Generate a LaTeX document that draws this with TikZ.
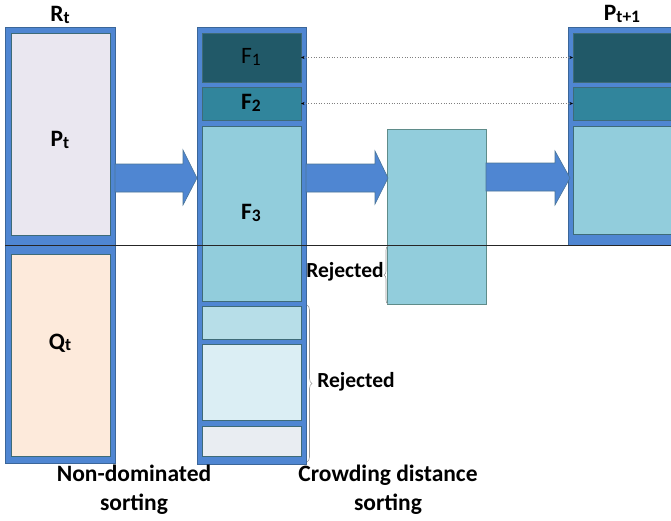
\documentclass[tikz,border=0pt]{standalone}
\usepackage{fontspec}
\setmainfont{Carlito}
\usetikzlibrary{arrows.meta,decorations.pathreplacing}
\definecolor{outblue}{HTML}{4F86D2}
\definecolor{bordblue}{HTML}{3B6699}
\definecolor{innbord}{HTML}{3E6B78}
\definecolor{cPt}{HTML}{EAE7F0}
\definecolor{cQt}{HTML}{FDEADB}
\definecolor{cF1}{HTML}{215968}
\definecolor{cF2}{HTML}{31859C}
\definecolor{cF3}{HTML}{92CDDC}
\definecolor{cB4}{HTML}{B7DEE8}
\definecolor{cB5}{HTML}{DBEEF4}
\definecolor{cB6}{HTML}{E9EDF2}
\definecolor{arrbord}{HTML}{4A7598}
\definecolor{crowdbord}{HTML}{5F8C8A}
\newcommand{\mysub}[1]{\raisebox{-0.15ex}{\fontsize{17.5}{17.5}\selectfont #1}}
\tikzset{
  outerbox/.style={draw=bordblue, fill=outblue, line width=0.8pt, inner sep=0pt, outer sep=0pt, anchor=north west},
  innerbox/.style={draw=innbord, line width=0.6pt, inner sep=0pt, outer sep=0pt, anchor=north west},
  lbl/.style={font=\fontsize{23.5}{27}\selectfont\bfseries, inner sep=0pt},
  botlbl/.style={font=\fontsize{23.5}{29}\selectfont\bfseries, align=center, inner sep=0pt},
  rejlbl/.style={font=\fontsize{21.5}{25}\selectfont\bfseries, inner sep=0pt},
  bigarrow/.style={fill=outblue, draw=arrbord, line width=0.6pt},
  dotarrow/.style={draw=gray, dotted, line width=0.6pt, {Stealth[length=3.5pt,width=3pt,black]}-{Stealth[length=3.5pt,width=3pt,black]}},
  bracepath/.style={draw=gray!80, line width=0.6pt, decorate},
}
\begin{document}
\begin{tikzpicture}[x=1pt,y=-1pt]
\clip (0,0) rectangle (671,520);
\fill[white] (0,0) rectangle (671,520);

% left column R_t
\node[outerbox, minimum width=110pt, minimum height=436pt] (R) at (5,27) {};
\node[innerbox, fill=cPt, minimum width=99pt, minimum height=202pt] (P) at (11,33) {};
\node[innerbox, fill=cQt, minimum width=99pt, minimum height=202pt] (Q) at (11,254) {};
\node[lbl] (Rl) at (60,15) {R\mysub{t}};
\node[lbl] (Pl) at (60,140) {P\mysub{t}};
\node[lbl] (Ql) at (60,343) {Q\mysub{t}};

% middle column
\node[outerbox, minimum width=109pt, minimum height=437pt] (M) at (197,27) {};
\node[innerbox, fill=cF1, minimum width=99pt, minimum height=49pt] (F1) at (202,33) {};
\node[innerbox, fill=cF2, minimum width=99pt, minimum height=33pt] (F2) at (202,87) {};
\node[innerbox, fill=cF3, minimum width=99pt, minimum height=175pt] (F3) at (202,126) {};
\node[innerbox, fill=cB4, minimum width=99pt, minimum height=33pt] (B4) at (202,306) {};
\node[innerbox, fill=cB5, minimum width=99pt, minimum height=76pt] (B5) at (202,344) {};
\node[innerbox, fill=cB6, minimum width=99pt, minimum height=30pt] (B6) at (202,426) {};
\node[lbl, font=\fontsize{23.5}{27}\selectfont] (F1l) at (251,57) {F\mysub{1}};
\node[lbl] (F2l) at (251,103) {F\mysub{2}};
\node[lbl] (F3l) at (251,213) {F\mysub{3}};

% crowding box
\node[draw=crowdbord, fill=cF3, line width=0.6pt, inner sep=0pt, anchor=north west, minimum width=99pt, minimum height=175pt] (C) at (387,129) {};

% right column P_{t+1}
\node[outerbox, minimum width=130pt, minimum height=218pt] (N) at (568,27) {};
\node[innerbox, fill=cF1, minimum width=120pt, minimum height=49pt] (G1) at (573,33) {};
\node[innerbox, fill=cF2, minimum width=120pt, minimum height=33pt] (G2) at (573,87) {};
\node[innerbox, fill=cF3, minimum width=120pt, minimum height=108pt] (G3) at (573,126) {};
\node[lbl] (Nl) at (622,14) {P\mysub{t+1}};

% big arrows
\draw[bigarrow] (115,164) -- (183,164) -- (183,150) -- (197,178) -- (183,205) -- (183,192) -- (115,192) -- cycle;
\draw[bigarrow] (306,164) -- (375,164) -- (375,151) -- (388,178) -- (375,204) -- (375,192) -- (306,192) -- cycle;
\draw[bigarrow] (486,163) -- (555,163) -- (555,151) -- (570,178) -- (555,205) -- (555,191) -- (486,191) -- cycle;

% dotted arrows
\draw[dotarrow] (F1.east) -- (G1.west);
\draw[dotarrow] (F2.east) -- (G2.west);

% horizontal line
\coordinate (h1) at (5,245);
\coordinate (h2) at (671,245);
\draw[line width=0.7pt, black!85] (h1) -- (h2);

% braces and rejected labels
\coordinate (b1a) at (388,304);
\coordinate (b1b) at (388,246);
\draw[bracepath, decoration={brace, amplitude=4pt}] (b1a) -- (b1b);
\node[rejlbl] (rej1) at (345,272) {Rejected};
\coordinate (b2a) at (307,305);
\coordinate (b2b) at (307,462);
\draw[bracepath, decoration={brace, amplitude=5pt}] (b2a) -- (b2b);
\node[rejlbl] (rej2) at (356,382) {Rejected};

% bottom labels
\node[botlbl] (nd) at (134,490) {Non-dominated\\sorting};
\node[botlbl] (cd) at (388,490) {Crowding distance\\sorting};
\end{tikzpicture}
\end{document}
